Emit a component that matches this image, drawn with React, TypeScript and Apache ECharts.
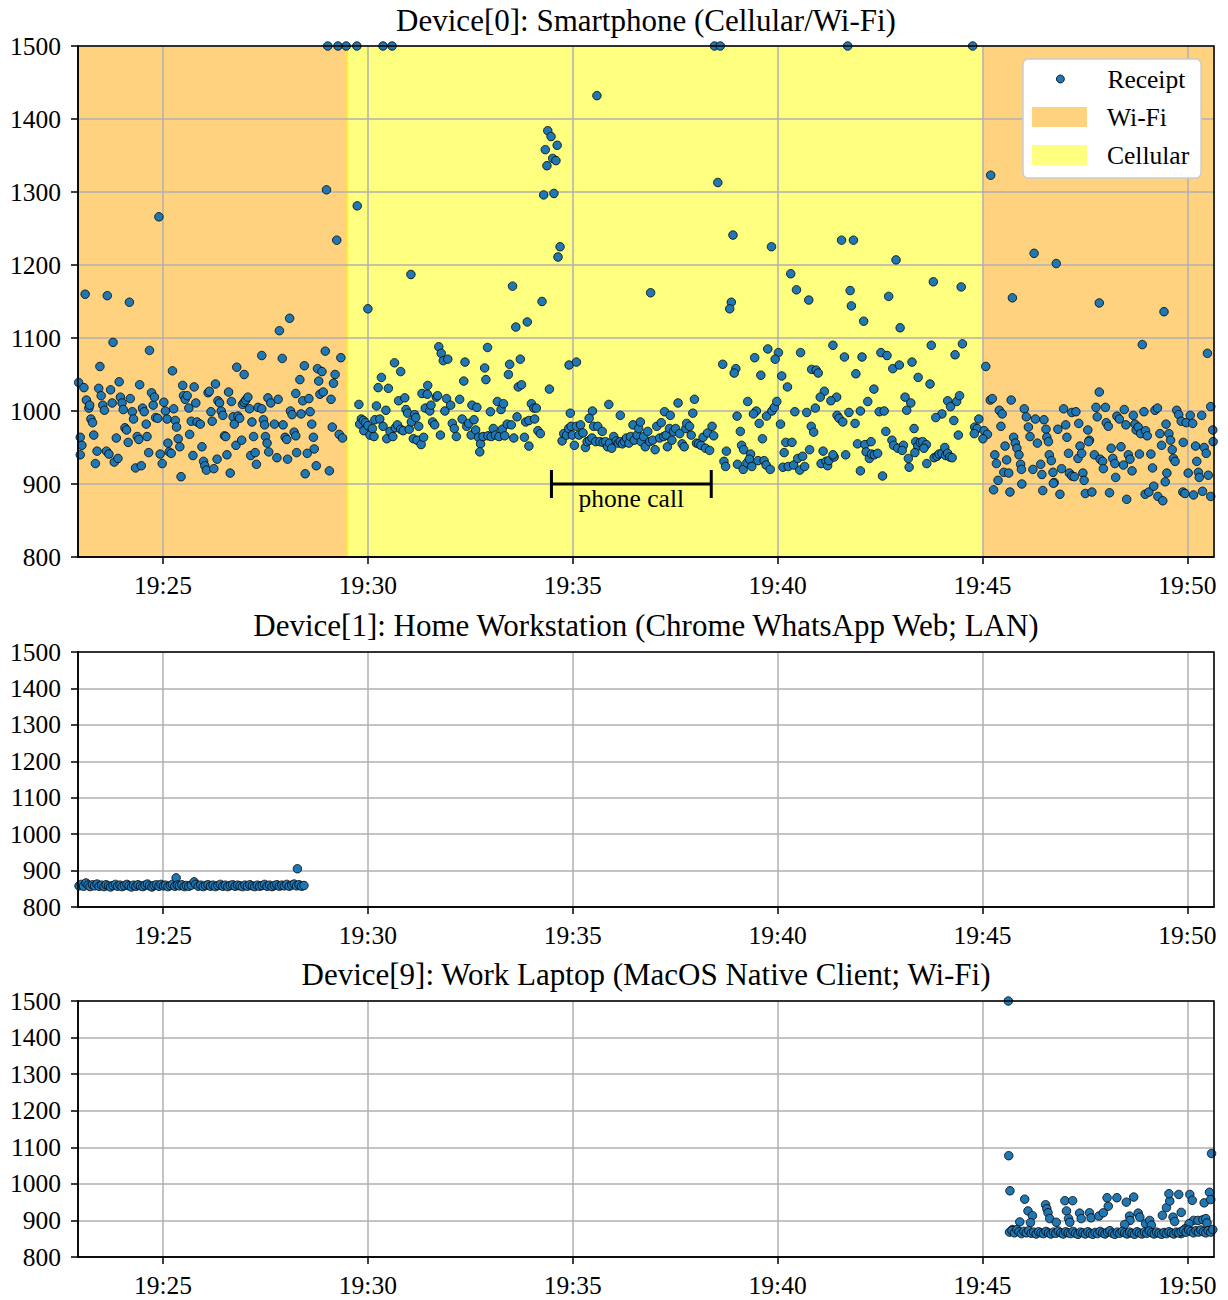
import React, { useEffect, useRef } from "react";
import * as echarts from "echarts";

const FONT = "'Liberation Serif', 'Times New Roman', Times, serif";
const TICK_FONT = 25.5;
const TITLE_FONT = 31;

// x values are minutes after 19:00
const X_MIN = 22.925;
const X_MAX = 50.65;
const Y_MIN = 800;
const Y_MAX = 1500;
const Y_STEP = 100;

const panelTitles = [
  "Device[0]: Smartphone (Cellular/Wi-Fi)",
  "Device[1]: Home Workstation (Chrome WhatsApp Web; LAN)",
  "Device[9]: Work Laptop (MacOS Native Client; Wi-Fi)",
];

const wifiPeriods = [
  [X_MIN, 29.52],
  [45.0, X_MAX],
];
const cellularPeriods = [[29.47, 45.0]];
const phoneCallSpan = [[34.48, 38.38, 900]];
const phoneCallLabel = "phone call";

// Device[0] receipts while on Wi-Fi (before switching)
const phoneWifiBefore = [
  [22.94, 1039], [23.07, 1032], [23.13, 1015], [23.19, 1004], [23.21, 1008], [23.24, 989], [23.28, 984], [23.31, 967],
  [22.98, 964], [23.02, 953], [22.98, 940], [23.35, 928], [23.39, 945], [23.43, 1031], [23.49, 1021], [23.53, 1008],
  [23.57, 1001], [23.62, 945], [23.68, 941], [23.72, 1029], [23.76, 1011], [23.81, 930], [23.86, 963], [23.9, 935],
  [23.93, 1040], [23.96, 1019], [24.0, 1011], [24.03, 1002], [24.07, 977], [24.11, 974], [24.15, 957], [24.2, 1017],
  [24.25, 999], [24.28, 989], [24.33, 922], [24.37, 965], [24.41, 961], [24.43, 1036], [24.47, 925], [24.5, 1004],
  [24.54, 999], [24.59, 982], [24.61, 965], [24.65, 943], [24.72, 1025], [24.76, 1008], [24.79, 1019], [24.82, 991],
  [24.87, 990], [24.93, 941], [24.98, 928], [25.02, 1012], [25.06, 1000], [25.1, 989], [25.12, 956], [25.15, 944],
  [25.2, 942], [25.26, 1003], [25.3, 987], [25.33, 978], [25.37, 962], [25.41, 951], [25.44, 910], [25.48, 1035],
  [25.5, 1021], [25.54, 1016], [25.59, 1021], [25.63, 1004], [25.65, 968], [25.69, 986], [25.73, 939], [25.76, 1033],
  [25.8, 1011], [25.83, 985], [25.91, 982], [25.95, 951], [25.99, 931], [26.02, 925], [26.06, 919], [26.1, 1025],
  [26.13, 1027], [26.17, 999], [26.2, 986], [26.24, 921], [26.28, 1037], [26.32, 934], [26.34, 1014], [26.38, 1011],
  [26.42, 1000], [26.46, 994], [26.5, 966], [26.53, 965], [26.56, 940], [26.6, 1026], [26.64, 915], [26.67, 1013],
  [26.71, 992], [26.74, 982], [26.78, 953], [26.83, 993], [26.87, 990], [26.92, 960], [26.94, 1009], [26.98, 1012],
  [27.02, 1015], [27.07, 1019], [27.11, 1003], [27.14, 939], [27.17, 985], [27.21, 965], [27.25, 943], [27.28, 927],
  [27.32, 1005],
  [24.9, 1266], [23.1, 1160], [23.64, 1158], [24.18, 1149], [23.78, 1094], [24.67, 1083], [23.46, 1061], [25.23, 1055],
  [26.8, 1060], [26.98, 1050],
  [28.99, 1303], [29.24, 1234], [28.09, 1127], [27.84, 1110], [27.41, 1076], [27.91, 1072], [28.96, 1082], [29.34, 1073],
  [28.45, 1062], [28.77, 1058], [28.88, 1054], [29.2, 1050], [28.34, 1043], [28.8, 1041], [29.16, 1038], [27.56, 1018],
  [27.63, 1011], [27.81, 1016], [28.24, 1024], [28.41, 1014], [28.56, 1017], [28.83, 1023], [28.91, 1026], [29.1, 1016],
  [27.41, 1003], [28.11, 1000], [28.15, 995], [28.37, 996], [28.59, 999], [27.45, 988], [27.48, 981], [27.72, 982],
  [27.93, 981], [28.63, 982], [29.13, 978], [27.5, 965], [27.54, 956], [27.58, 944], [27.98, 964], [28.02, 961],
  [28.2, 971], [28.24, 966], [28.67, 964], [29.3, 968], [29.38, 963], [27.78, 936], [28.04, 934], [28.26, 943],
  [28.52, 942], [28.69, 948], [28.47, 914], [28.74, 925], [29.06, 918],
  [29.02, 1500], [29.27, 1500], [29.47, 1500],
];

// Device[0] receipts while on cellular
const phoneCellular = [
  [29.73, 1500], [30.37, 1500], [30.59, 1500], [29.74, 1281], [31.05, 1187], [30.0, 1140],
  [29.78, 1009], [29.84, 989], [29.8, 982], [29.89, 987], [29.9, 973], [29.94, 984], [30.0, 980], [30.05, 967],
  [30.11, 976], [30.15, 965], [30.17, 988], [30.21, 1007], [30.25, 1032], [30.29, 989], [30.33, 1046], [30.37, 979],
  [30.44, 1001], [30.46, 962], [30.5, 1031], [30.54, 972], [30.61, 965], [30.65, 1066], [30.67, 977], [30.72, 981],
  [30.75, 1014], [30.8, 1054], [30.8, 975], [30.86, 973], [30.9, 1018], [30.93, 1002], [30.97, 997], [31.01, 975],
  [31.06, 985], [31.11, 962], [31.14, 995], [31.17, 991], [31.2, 960], [31.24, 979], [31.3, 954], [31.32, 1024],
  [31.36, 964], [31.4, 1004], [31.45, 1023], [31.46, 1035], [31.51, 1000], [31.54, 1008], [31.58, 985], [31.63, 981],
  [31.67, 1019], [31.7, 1021], [31.73, 1088], [31.79, 1079], [31.84, 1069], [31.95, 1071], [31.77, 967], [31.88, 1000],
  [31.92, 1017], [32.02, 1008],
  [35.59, 1432], [34.39, 1384], [34.47, 1376], [34.62, 1364], [34.33, 1358], [34.51, 1346], [34.59, 1343], [34.37, 1336],
  [34.29, 1296], [34.54, 1298], [34.69, 1225], [34.64, 1211], [33.53, 1171], [34.25, 1150], [33.61, 1115], [33.89, 1122],
  [32.92, 1087], [32.37, 1067], [32.85, 1059], [33.46, 1064], [33.72, 1071], [34.91, 1063], [35.09, 1067], [32.34, 1041],
  [32.88, 1043], [33.43, 1050], [33.67, 1033], [33.75, 1036], [34.43, 1030], [32.24, 1016], [32.54, 1008], [32.66, 1005],
  [32.99, 999], [33.16, 1013], [33.25, 1002], [33.31, 1010], [33.99, 1010], [34.05, 1004], [34.11, 1004], [34.94, 997],
  [35.48, 1000], [35.88, 1009], [36.16, 994],
  [32.06, 983], [32.11, 976], [32.16, 965], [32.3, 989], [32.41, 979], [32.46, 983], [32.52, 967], [32.59, 988],
  [32.63, 974], [32.7, 964], [32.75, 955], [32.73, 944], [32.81, 965], [32.93, 966], [33.01, 965], [33.06, 976],
  [33.11, 967], [33.2, 965], [33.28, 975], [33.34, 966], [33.4, 982], [33.5, 981], [33.56, 963], [33.64, 992],
  [33.82, 964], [33.85, 985], [33.93, 987], [33.93, 952], [34.07, 989], [34.15, 973], [34.21, 969],
  [34.74, 959], [34.78, 969], [34.85, 967], [34.9, 976], [34.96, 979], [34.99, 967], [35.04, 953], [35.09, 979],
  [35.15, 967], [35.19, 981], [35.25, 970], [35.31, 950], [35.35, 958], [35.4, 990], [35.41, 960], [35.47, 963],
  [35.51, 979], [35.56, 958], [35.61, 979], [35.66, 958], [35.72, 972], [35.74, 957], [35.8, 958], [35.85, 951],
  [35.9, 956], [35.95, 949], [36.0, 965], [36.06, 959], [36.11, 956], [36.16, 958], [36.21, 955], [36.26, 958],
  [36.31, 963], [36.37, 956], [36.41, 965], [36.47, 981], [36.5, 960], [36.57, 967], [36.61, 976], [36.65, 985],
  [36.67, 958], [36.73, 965], [36.77, 951], [36.83, 972], [36.88, 958], [36.9, 1162],
  [36.95, 960], [37.01, 947], [37.05, 979], [37.12, 963], [37.16, 984], [37.22, 965], [37.24, 999], [37.28, 967],
  [37.31, 951], [37.36, 976], [37.38, 994], [37.42, 960], [37.46, 972], [37.51, 976], [37.57, 1011], [37.61, 969],
  [37.67, 955], [37.72, 951], [37.76, 976], [37.78, 983], [37.85, 979], [37.89, 967], [37.93, 997], [37.97, 1016],
  [38.02, 956], [38.07, 955], [38.13, 953], [38.18, 964], [38.24, 949], [38.29, 970], [38.34, 946], [38.4, 979],
  [38.44, 966],
  [38.46, 1500], [38.6, 1500], [38.54, 1313], [38.91, 1241], [39.85, 1225], [38.87, 1149], [38.83, 1140], [40.32, 1188],
  [40.46, 1166], [40.76, 1152],
  [38.66, 1064], [38.98, 1058], [38.94, 1052], [39.44, 1073], [39.76, 1085], [40.02, 1080], [39.94, 1071], [40.56, 1080],
  [39.59, 1049], [40.1, 1048], [40.24, 1033], [40.83, 1057], [40.94, 1056], [40.99, 1052], [41.14, 1027], [41.04, 1019],
  [40.92, 1004], [39.27, 1013], [39.48, 1000], [39.41, 996], [39.55, 983], [39.73, 993], [39.86, 1000], [39.92, 1005],
  [39.98, 1013], [40.07, 982], [40.42, 999], [40.71, 998], [40.82, 979], [40.88, 971], [39.01, 993], [39.09, 972],
  [39.63, 962], [39.12, 953], [39.17, 947], [39.34, 941], [40.2, 957], [40.35, 957], [40.16, 943], [40.78, 947],
  [41.11, 945], [38.75, 945], [38.69, 931], [38.73, 924], [39.02, 927], [39.16, 920], [39.25, 929], [39.31, 934],
  [39.37, 924], [39.52, 932], [39.67, 932], [39.72, 926], [39.82, 920], [40.13, 923], [40.26, 924], [40.39, 926],
  [40.49, 935], [40.54, 919], [40.61, 938], [40.66, 924], [41.06, 928], [41.18, 931], [41.22, 925], [41.25, 932],
  [41.71, 1500], [44.76, 1500],
  [41.56, 1234], [41.85, 1234], [42.89, 1207], [41.77, 1165], [41.8, 1144], [42.71, 1157], [43.8, 1177], [44.48, 1170],
  [42.1, 1123], [42.99, 1114], [41.35, 1090], [41.63, 1074], [42.06, 1074], [42.52, 1080], [42.67, 1076], [43.75, 1090],
  [44.51, 1092], [44.33, 1077], [42.81, 1058], [42.97, 1063], [43.28, 1067], [41.91, 1051], [43.43, 1046], [43.72, 1037],
  [42.35, 1030], [41.44, 1019], [42.2, 1013], [43.11, 1019], [43.25, 1011], [44.15, 1014], [44.37, 1013], [44.44, 1021],
  [44.22, 1006], [41.3, 1014], [41.74, 998], [42.02, 1000], [42.48, 999], [42.6, 1000], [43.15, 1001], [44.01, 996],
  [41.45, 994], [41.5, 990], [41.59, 985], [41.89, 983], [43.86, 991], [44.3, 987], [44.91, 989], [44.81, 978],
  [44.87, 976], [44.8, 969], [42.64, 972], [43.33, 976], [44.41, 967], [41.95, 955], [42.13, 954], [42.28, 958],
  [42.79, 960], [42.83, 953], [42.93, 949], [43.07, 953], [43.04, 946], [43.37, 958], [43.42, 952], [43.48, 957],
  [43.54, 958], [43.63, 954], [43.57, 949], [43.35, 943], [42.16, 944], [42.24, 935], [42.29, 941], [42.36, 940],
  [42.44, 942], [43.19, 935], [43.21, 923], [43.82, 936], [43.89, 938], [43.94, 941], [44.01, 942], [44.08, 950],
  [44.1, 939], [44.15, 942], [44.2, 937], [44.26, 936], [43.64, 928], [41.66, 940], [41.38, 937], [41.35, 940],
  [42.02, 918], [42.56, 911],
];

// Device[0] receipts after returning to Wi-Fi
const phoneWifiAfter = [
  [45.2, 1323], [45.73, 1155], [45.08, 1061], [45.04, 973], [45.12, 968], [45.01, 962],
  [45.19, 1015], [45.24, 1017], [45.7, 1015], [45.41, 1001], [45.48, 996], [45.45, 979], [45.76, 964], [45.8, 956],
  [45.84, 949], [45.55, 952], [45.89, 940], [45.3, 940], [45.34, 928], [45.59, 933], [45.52, 916], [45.64, 915],
  [45.93, 927], [45.95, 920], [45.38, 905], [45.27, 892], [45.67, 889],
  [46.26, 1216], [46.8, 1202], [47.85, 1148], [49.43, 1136], [48.9, 1091], [50.49, 1079], [47.85, 1026],
  [46.02, 1003], [46.07, 992], [46.29, 989], [46.5, 988], [46.55, 975], [46.57, 964], [46.61, 958], [46.84, 975],
  [46.98, 1003], [47.03, 981], [47.06, 964], [47.18, 998], [47.28, 999], [47.35, 983], [47.57, 974], [47.61, 960],
  [47.77, 1005], [47.8, 992], [48.02, 984], [48.07, 979], [48.0, 1005], [48.28, 993], [48.34, 989], [48.46, 1002],
  [48.5, 981], [48.68, 994], [48.72, 982], [48.94, 999], [49.21, 1001], [49.27, 1004], [49.74, 1001], [49.79, 995],
  [49.85, 986], [49.97, 984], [50.07, 994], [50.13, 983], [50.35, 994], [50.57, 1006], [50.62, 974],
  [46.12, 978], [46.16, 965], [46.34, 956], [46.63, 940], [46.68, 932], [47.1, 942], [47.33, 935], [47.38, 952],
  [47.42, 942], [47.59, 958], [47.73, 940], [47.87, 934], [47.93, 931], [47.95, 921], [48.14, 949], [48.18, 935],
  [48.23, 928], [48.38, 951], [48.44, 926], [48.56, 940], [48.6, 934], [48.65, 918], [48.75, 974], [48.8, 978],
  [48.83, 941], [48.86, 969], [48.98, 973], [49.02, 966], [49.11, 941], [49.15, 922], [49.33, 969], [49.37, 953],
  [49.48, 982], [49.55, 969], [49.59, 960], [49.63, 947], [49.66, 935], [49.7, 931], [49.9, 957], [50.2, 952],
  [50.41, 950], [50.46, 942], [50.63, 958], [50.23, 931],
  [45.96, 900], [46.23, 920], [46.42, 927], [46.45, 913], [46.72, 916], [46.75, 902], [46.93, 921], [47.12, 915],
  [47.18, 911], [47.24, 910], [47.45, 915], [47.48, 905], [47.51, 887], [47.67, 889], [48.1, 888], [48.25, 909],
  [48.52, 879], [48.97, 886], [49.06, 889], [49.18, 897], [49.28, 883], [49.4, 877], [49.46, 903], [49.5, 915],
  [49.89, 889], [49.94, 887], [50.02, 915], [50.15, 885], [50.27, 916], [50.29, 909], [50.37, 890], [50.51, 912],
  [50.57, 883], [46.89, 886], [46.47, 891], [46.73, 901],
];

// Device[1] receipts
const homeReceipts = [
  [22.95, 858], [23.01, 862], [23.06, 857], [23.12, 866], [23.17, 860], [23.22, 856], [23.28, 861], [23.33, 858],
  [23.39, 863], [23.44, 857], [23.5, 860], [23.56, 856], [23.61, 861], [23.67, 858], [23.72, 855], [23.78, 859],
  [23.84, 862], [23.89, 857], [23.95, 860], [24.0, 856], [24.06, 859], [24.12, 862], [24.17, 858], [24.23, 855],
  [24.28, 860], [24.34, 857], [24.39, 861], [24.45, 858], [24.51, 856], [24.56, 860], [24.62, 863], [24.67, 858],
  [24.73, 855], [24.78, 859], [24.84, 861], [24.9, 857], [24.95, 862], [25.01, 858], [25.06, 860], [25.12, 856],
  [25.18, 859], [25.23, 862], [25.29, 857], [25.32, 880], [25.35, 860], [25.4, 858], [25.46, 861], [25.52, 856],
  [25.57, 859], [25.63, 857], [25.69, 860], [25.76, 869], [25.8, 862], [25.86, 857], [25.92, 860], [25.98, 856],
  [26.04, 859], [26.1, 861], [26.16, 857], [26.22, 860], [26.28, 856], [26.34, 859], [26.4, 862], [26.46, 857],
  [26.52, 860], [26.58, 856], [26.64, 859], [26.7, 861], [26.76, 857], [26.82, 860], [26.88, 858], [26.94, 856],
  [27.0, 860], [27.06, 857], [27.12, 861], [27.18, 858], [27.24, 856], [27.3, 860], [27.36, 857], [27.42, 859],
  [27.48, 862], [27.54, 857], [27.6, 860], [27.66, 856], [27.72, 859], [27.78, 861], [27.84, 857], [27.9, 860],
  [27.96, 858], [28.02, 862], [28.08, 857], [28.14, 860], [28.2, 863], [28.26, 858], [28.28, 905], [28.32, 861],
  [28.38, 857], [28.44, 859],
];

// Device[9] receipts
const laptopReceipts = [
  [45.63, 1500], [45.64, 1077], [45.67, 981], [50.59, 1083],
  [46.03, 958], [46.11, 926], [46.22, 913], [46.17, 894], [45.91, 896], [45.73, 875], [46.54, 943], [46.57, 932],
  [46.6, 921], [46.64, 905], [46.8, 895], [47.01, 954], [47.2, 954], [47.05, 926], [47.1, 905], [47.13, 895],
  [47.37, 920], [47.41, 905], [47.61, 921], [47.65, 907], [47.84, 912], [47.95, 921], [48.07, 939], [48.04, 962],
  [48.28, 962], [48.51, 950], [48.69, 964], [48.59, 912], [48.6, 900], [48.47, 889], [48.8, 920], [48.84, 909],
  [48.98, 891], [49.08, 900], [49.12, 887], [49.39, 914], [49.49, 935], [49.57, 953], [49.55, 973], [49.65, 909],
  [49.69, 897], [49.79, 971], [49.85, 922], [50.06, 971], [50.12, 955], [50.41, 948], [50.54, 977], [50.57, 957],
  [50.15, 900], [50.26, 900], [50.38, 902], [50.45, 905], [50.48, 893], [50.04, 891], [49.94, 877], [49.85, 864],
  [45.66, 868], [45.72, 872], [45.78, 866], [45.84, 875], [45.89, 869], [45.95, 864], [46.01, 870], [46.07, 866],
  [46.13, 872], [46.19, 865], [46.25, 868], [46.31, 863], [46.37, 869], [46.43, 866], [46.49, 864], [46.55, 870],
  [46.61, 866], [46.67, 863], [46.73, 868], [46.79, 865], [46.85, 871], [46.91, 866], [46.97, 863], [47.03, 869],
  [47.09, 866], [47.15, 864], [47.21, 870], [47.27, 865], [47.33, 862], [47.39, 868], [47.45, 866], [47.51, 863],
  [47.57, 869], [47.63, 865], [47.69, 862], [47.75, 867], [47.81, 864], [47.87, 870], [47.93, 866], [47.99, 863],
  [48.05, 868], [48.11, 872], [48.17, 865], [48.23, 862], [48.29, 868], [48.35, 865], [48.41, 870], [48.47, 866],
  [48.53, 863], [48.59, 868], [48.65, 865], [48.71, 862], [48.77, 869], [48.83, 866], [48.89, 863], [48.95, 868],
  [49.01, 865], [49.07, 871], [49.13, 866], [49.19, 863], [49.25, 868], [49.31, 865], [49.37, 862], [49.43, 867],
  [49.49, 864], [49.55, 869], [49.61, 866], [49.67, 863], [49.73, 868], [49.79, 866], [49.85, 870], [49.91, 873],
  [49.97, 868], [50.03, 874], [50.09, 870], [50.15, 866], [50.21, 872], [50.27, 868], [50.33, 874], [50.39, 869],
  [50.45, 866], [50.51, 872], [50.57, 868], [50.62, 875],
];

const grids = [
  { left: 78, top: 46, width: 1136, height: 511 },
  { left: 78, top: 652, width: 1136, height: 255 },
  { left: 78, top: 1001, width: 1136, height: 256 },
];
const titleTops = [5, 610, 959];

const WIFI_COLOR = "rgba(255,165,0,0.5)";
const CELL_COLOR = "rgba(255,255,0,0.5)";
const POINT_COLOR = "#1f77b4";

function fmtTime(v: number) {
  const m = Math.round(v);
  return "19:" + String(m).padStart(2, "0");
}

export default function App() {
  const ref = useRef<HTMLDivElement>(null);

  useEffect(() => {
    document.body.style.margin = "0";
    if (!ref.current) return;
    const chart = echarts.init(ref.current, null, { renderer: "svg" });

    const pointStyle = { color: POINT_COLOR, borderColor: "#000", borderWidth: 0.8, opacity: 1 };
    const phoneAll = [...phoneWifiBefore, ...phoneCellular, ...phoneWifiAfter];
    const receiptsPerPanel = [phoneAll, homeReceipts, laptopReceipts];

    const xAxes = grids.map((_, i) => ({
      type: "value",
      gridIndex: i,
      min: X_MIN,
      max: X_MAX,
      splitNumber: 5,
      minInterval: 5,
      maxInterval: 5,
      z: 2,
      axisLine: { show: true, onZero: false, lineStyle: { color: "#000", width: 1.5 } },
      axisTick: { show: true, length: 7, lineStyle: { color: "#000", width: 1.5 } },
      axisLabel: {
        show: true,
        margin: 15,
        showMinLabel: false,
        showMaxLabel: false,
        color: "#000",
        fontFamily: FONT,
        fontSize: TICK_FONT,
        formatter: (v: number) => fmtTime(v),
      },
      splitLine: { show: true, lineStyle: { color: "#b0b0b0", width: 1.5 } },
    }));

    const yAxes = grids.map((_, i) => ({
      type: "value",
      gridIndex: i,
      min: Y_MIN,
      max: Y_MAX,
      interval: Y_STEP,
      z: 2,
      axisLine: { show: true, onZero: false, lineStyle: { color: "#000", width: 1.5 } },
      axisTick: { show: true, length: 7, lineStyle: { color: "#000", width: 1.5 } },
      axisLabel: {
        show: true,
        margin: 17,
        color: "#000",
        fontFamily: FONT,
        fontSize: TICK_FONT,
        formatter: (v: number) => String(Math.round(v)),
      },
      splitLine: { show: true, lineStyle: { color: "#b0b0b0", width: 1.5 } },
    }));

    const scatterSeries = receiptsPerPanel.map((d, i) => ({
      type: "scatter",
      name: "Receipt",
      xAxisIndex: i,
      yAxisIndex: i,
      data: d,
      symbol: "circle",
      symbolSize: 8.5,
      itemStyle: pointStyle,
      z: 3,
      silent: true,
    }));

    const bandSeries = [
      {
        type: "line",
        name: "Wi-Fi",
        xAxisIndex: 0,
        yAxisIndex: 0,
        data: [],
        color: WIFI_COLOR,
        itemStyle: { color: WIFI_COLOR },
        z: 1,
        markArea: {
          silent: true,
          z: 1,
          itemStyle: { color: WIFI_COLOR },
          data: wifiPeriods.map((p) => [{ xAxis: p[0] }, { xAxis: p[1] }]),
        },
      },
      {
        type: "line",
        name: "Cellular",
        xAxisIndex: 0,
        yAxisIndex: 0,
        data: [],
        color: CELL_COLOR,
        itemStyle: { color: CELL_COLOR },
        z: 1,
        markArea: {
          silent: true,
          z: 1,
          itemStyle: { color: CELL_COLOR },
          data: cellularPeriods.map((p) => [{ xAxis: p[0] }, { xAxis: p[1] }]),
        },
      },
    ];

    const callSeries = {
      type: "custom",
      xAxisIndex: 0,
      yAxisIndex: 0,
      z: 4,
      silent: true,
      encode: { x: [0, 1], y: 2 },
      data: phoneCallSpan,
      renderItem: (_params: any, api: any) => {
        const a = api.coord([api.value(0), api.value(2)]);
        const b = api.coord([api.value(1), api.value(2)]);
        const st = { stroke: "#000", lineWidth: 3 };
        return {
          type: "group",
          children: [
            { type: "line", shape: { x1: a[0], y1: a[1], x2: b[0], y2: b[1] }, style: st },
            { type: "line", shape: { x1: a[0], y1: a[1] - 14, x2: a[0], y2: a[1] + 14 }, style: st },
            { type: "line", shape: { x1: b[0], y1: b[1] - 14, x2: b[0], y2: b[1] + 14 }, style: st },
            {
              type: "text",
              x: (a[0] + b[0]) / 2,
              y: a[1] + 1,
              style: {
                text: phoneCallLabel,
                fill: "#000",
                fontFamily: FONT,
                fontSize: TICK_FONT,
                align: "center",
                verticalAlign: "top",
              },
            },
          ],
        };
      },
    };

    const frames = grids.map((g) => ({
      type: "rect",
      z: 50,
      silent: true,
      shape: { x: g.left, y: g.top, width: g.width, height: g.height },
      style: { fill: "none", stroke: "#000", lineWidth: 1.5 },
    }));

    const option: any = {
      animation: false,
      backgroundColor: "#fff",
      textStyle: { fontFamily: FONT },
      title: panelTitles.map((t, i) => ({
        text: t,
        left: grids[i].left + grids[i].width / 2,
        top: titleTops[i],
        textAlign: "center",
        padding: 0,
        textStyle: { fontFamily: FONT, fontSize: TITLE_FONT, fontWeight: "normal", color: "#000" },
      })),
      grid: grids.map((g) => ({ ...g, containLabel: false, show: false })),
      xAxis: xAxes,
      yAxis: yAxes,
      legend: [
        {
          data: [{ name: "Receipt", icon: "circle", itemStyle: pointStyle }],
          left: 1056,
          top: 66,
          padding: 0,
          itemWidth: 8,
          itemHeight: 8,
          z: 60,
          selectedMode: false,
          formatter: (name: string) => `{t|${name}}`,
          textStyle: {
            rich: {
              t: { fontFamily: FONT, fontSize: TICK_FONT, color: "#000", lineHeight: 20, padding: [0, 0, 0, 38] },
            },
          },
        },
        {
          data: [
            { name: "Wi-Fi", icon: "rect", itemStyle: { color: WIFI_COLOR } },
            { name: "Cellular", icon: "rect", itemStyle: { color: CELL_COLOR } },
          ],
          orient: "vertical",
          left: 1032,
          top: 104,
          padding: 0,
          itemWidth: 55,
          itemHeight: 20,
          itemGap: 12,
          z: 60,
          selectedMode: false,
          formatter: (name: string) => `{t|${name}}`,
          textStyle: {
            rich: {
              t: { fontFamily: FONT, fontSize: TICK_FONT, color: "#000", lineHeight: 20, padding: [0, 0, 0, 15] },
            },
          },
        },
      ],
      graphic: [
        ...frames,
        {
          type: "rect",
          z: 55,
          silent: true,
          shape: { x: 1023, y: 59, width: 178, height: 119, r: 5 },
          style: { fill: "#ffffff", stroke: "#cccccc", lineWidth: 1.5 },
        },
      ],
      series: [...bandSeries, ...scatterSeries, callSeries],
    };

    chart.setOption(option);
    return () => {
      chart.dispose();
    };
  }, []);

  return <div ref={ref} style={{ width: 1228, height: 1300 }} />;
}
